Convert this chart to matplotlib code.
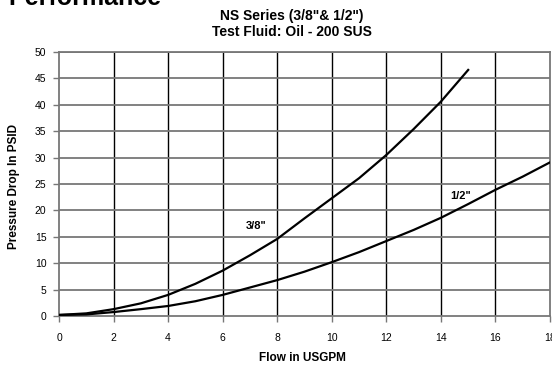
import matplotlib.pyplot as plt

plt.rcParams["font.family"] = ["Liberation Sans", "DejaVu Sans"]

# flow (USGPM) and pressure drop (PSID)
flow_38 = [0, 1, 2, 3, 4, 5, 6, 7, 8, 9, 10, 11, 12, 13, 14, 15]
dp_38 = [0.2, 0.5, 1.3, 2.4, 4.0, 6.1, 8.6, 11.5, 14.6, 18.5, 22.3, 26.1, 30.5, 35.4, 40.6, 46.6]
flow_12 = [0, 1, 2, 3, 4, 5, 6, 7, 8, 9, 10, 11, 12, 13, 14, 15, 16, 17, 18]
dp_12 = [0.2, 0.3, 0.75, 1.3, 1.9, 2.8, 4.0, 5.4, 6.8, 8.4, 10.2, 12.1, 14.2, 16.3, 18.6, 21.2, 23.9, 26.4, 29.1]

x_ticks = [0, 2, 4, 6, 8, 10, 12, 14, 16, 18]
y_ticks = [0, 5, 10, 15, 20, 25, 30, 35, 40, 45, 50]

fig = plt.figure(figsize=(5.52, 3.70), dpi=100)
ax = fig.add_axes([0.1069, 0.1459, 0.8895, 0.7136])

# grid: vertical black, horizontal grey
for x in x_ticks[1:-1]:
    ax.axvline(x, color="black", linewidth=1.0, zorder=1)
for y in y_ticks[1:]:
    ax.axhline(y, color="#777777", linewidth=1.3, zorder=1)

ax.plot(flow_38, dp_38, color="black", linewidth=1.6, zorder=3)
ax.plot(flow_12, dp_12, color="black", linewidth=1.6, zorder=3)

ax.text(7.24, 17.1, '3/8"', fontsize=8, fontweight="bold", ha="center", va="center")
ax.text(14.72, 22.8, '1/2"', fontsize=8, fontweight="bold", ha="center", va="center")

ax.set_xlim(0, 18)
ax.set_ylim(0, 50)
ax.set_xticks(x_ticks)
ax.set_yticks(y_ticks)
ax.tick_params(axis="both", direction="out", length=4, width=1, color="#777777",
               labelsize=7.5)
ax.tick_params(axis="x", pad=8)
ax.tick_params(axis="y", pad=5)
for s in ax.spines.values():
    s.set_color("#777777")
    s.set_linewidth(1.3)

fig.text(0.547, 1 - 358 / 370, "Flow in USGPM", fontsize=8.5, fontweight="bold",
         ha="center", va="center")
fig.text(14 / 552, 1 - 187 / 370, "Pressure Drop In PSID", fontsize=8.5,
         fontweight="bold", ha="center", va="center", rotation=90)

fig.text(0.528, 0.957, 'NS Series (3/8"& 1/2")', fontsize=10, fontweight="bold",
         ha="center", va="center")
fig.text(0.528, 0.914, "Test Fluid: Oil - 200 SUS", fontsize=10, fontweight="bold",
         ha="center", va="center")
fig.text(8 / 552, 0.987, "Performance", fontsize=18, fontweight="bold",
         ha="left", va="baseline")

fig.savefig("out.png", dpi=100)
